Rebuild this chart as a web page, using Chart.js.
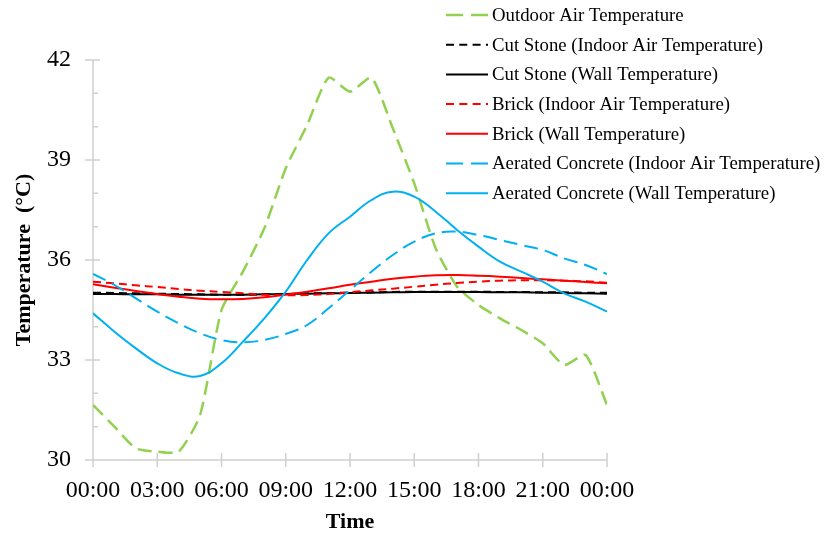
<!DOCTYPE html>
<html><head><meta charset="utf-8">
<script src="https://cdn.jsdelivr.net/npm/chart.js@4.4.1/dist/chart.umd.min.js"></script>
<style>html,body{margin:0;padding:0;background:#fff}#wrap{width:826px;height:536px}</style>
</head><body><div id="wrap"><canvas id="c" width="826" height="536"></canvas></div>
<script>
// ---- data ----
const hours = [0,1,2,3,4,5,6,7,8,9,10,11,12,13,14,15,16,17,18,19,20,21,22,23,24];
const yTicks = [30, 33, 36, 39, 42];
const seriesLabels = [
  'Outdoor Air Temperature',
  'Cut Stone (Indoor Air Temperature)',
  'Cut Stone (Wall Temperature)',
  'Brick (Indoor Air Temperature)',
  'Brick (Wall Temperature)',
  'Aerated Concrete (Indoor Air Temperature)',
  'Aerated Concrete (Wall Temperature)'
];
const outdoorAir = [31.65,31.0,30.35,30.25,30.25,31.35,34.5,35.65,36.95,38.75,40.05,41.47,41.05,41.47,39.95,38.3,36.35,35.2,34.65,34.25,33.9,33.5,32.85,33.15,31.65];
const cutStoneAir = [35.02,35.01,35.0,34.99,34.98,34.97,34.96,34.96,34.97,34.98,35.0,35.01,35.02,35.03,35.04,35.05,35.05,35.05,35.05,35.04,35.04,35.03,35.03,35.02,35.02];
const cutStoneWall = [34.98,34.98,34.97,34.97,34.96,34.96,34.96,34.96,34.97,34.98,34.99,35.0,35.01,35.02,35.03,35.04,35.04,35.04,35.04,35.03,35.03,35.02,35.01,35.0,34.99];
const brickAir = [35.35,35.3,35.24,35.19,35.13,35.08,35.04,35.0,34.96,34.94,34.95,34.98,35.03,35.09,35.14,35.2,35.26,35.31,35.35,35.38,35.39,35.39,35.38,35.36,35.32];
const brickWall = [35.27,35.17,35.07,34.98,34.9,34.84,34.82,34.83,34.88,34.96,35.05,35.15,35.26,35.35,35.44,35.5,35.54,35.55,35.53,35.5,35.46,35.42,35.38,35.34,35.3];
const aeratedAir = [35.58,35.25,34.85,34.45,34.1,33.8,33.6,33.53,33.6,33.78,34.05,34.55,35.1,35.65,36.15,36.55,36.8,36.85,36.75,36.6,36.45,36.3,36.05,35.85,35.58];
const aeratedWall = [34.4,33.85,33.35,32.9,32.6,32.52,32.9,33.55,34.25,35.05,36.0,36.8,37.3,37.8,38.05,37.9,37.45,36.9,36.4,35.95,35.65,35.35,35.0,34.75,34.45];

const seriesValues = [outdoorAir, cutStoneAir, cutStoneWall, brickAir, brickWall, aeratedAir, aeratedWall];
const seriesColors = ['#92d050','#000000','#000000','#ff0000','#ff0000','#00b0f0','#00b0f0'];
const seriesDash = [[14,7],[8,5],[],[8,5],[],[14,7],[]];
const seriesWidth = [2.5,2,2,2,2,2,2];
const seriesTension = [0.2,0.4,0.4,0.4,0.4,0.4,0.4];

const fmtHour = v => String(v % 24).padStart(2,'0') + ':00';

const datasets = seriesLabels.map((lab, i) => ({
  label: lab,
  data: hours.map((h, k) => ({x: h, y: seriesValues[i][k]})),
  borderColor: seriesColors[i],
  backgroundColor: seriesColors[i],
  borderDash: seriesDash[i],
  borderWidth: seriesWidth[i],
  tension: seriesTension[i],
  pointRadius: 0,
  fill: false,
  order: 10 - i
}));

const SERIF = '"Liberation Serif", "Times New Roman", serif';

const axesPlugin = {
  id: 'axesPlugin',
  beforeDatasetsDraw(chart) {
    const {ctx, scales: {x, y}, chartArea: a} = chart;
    ctx.save();
    ctx.strokeStyle = '#d0d0d0';
    ctx.lineWidth = 1.5;
    ctx.beginPath();
    ctx.moveTo(a.left, a.top); ctx.lineTo(a.left, a.bottom);
    ctx.moveTo(a.left, a.bottom); ctx.lineTo(a.right, a.bottom);
    y.ticks.forEach(t => { const p = y.getPixelForValue(t.value); ctx.moveTo(a.left - 8, p); ctx.lineTo(a.left + 7, p); });
    for (let v = y.min; v <= y.max; v += 1) { const p = y.getPixelForValue(v); ctx.moveTo(a.left, p); ctx.lineTo(a.left + 5, p); }
    x.ticks.forEach(t => { const p = x.getPixelForValue(t.value); ctx.moveTo(p, a.bottom - 7); ctx.lineTo(p, a.bottom + 7); });
    ctx.stroke();
    ctx.restore();
  }
};

const legendPlugin = {
  id: 'customLegend',
  afterDraw(chart) {
    const ctx = chart.ctx;
    ctx.save();
    ctx.font = '18.8px ' + SERIF;
    ctx.textBaseline = 'middle';
    ctx.textAlign = 'left';
    chart.data.datasets.forEach((ds, i) => {
      const yy = 15 + i * 29.7;
      ctx.strokeStyle = ds.borderColor;
      ctx.lineWidth = ds.borderWidth;
      const d = ds.borderDash.length ? (ds.borderDash[0] > 10 ? [17, 8] : [8, 5.3]) : [];
      ctx.setLineDash(d);
      ctx.beginPath();
      ctx.moveTo(446, yy); ctx.lineTo(488, yy);
      ctx.stroke();
      ctx.setLineDash([]);
      ctx.fillStyle = '#000';
      ctx.fillText(ds.label, 492, yy + 1);
    });
    ctx.restore();
  }
};

new Chart(document.getElementById('c'), {
  type: 'line',
  data: { datasets },
  options: {
    responsive: false,
    animation: false,
    devicePixelRatio: 1,
    layout: { padding: { top: 60, right: 219, left: 0, bottom: 0 } },
    plugins: { legend: { display: false }, tooltip: { enabled: false } },
    scales: {
      x: {
        type: 'linear', min: 0, max: 24,
        afterBuildTicks: s => { s.ticks = hours.filter(h => h % 3 === 0).map(v => ({value: v})); },
        afterFit: s => { s.height = 76; },
        grid: { display: false, drawTicks: false },
        border: { display: false },
        ticks: { color: '#000', font: { family: SERIF, size: 24 }, padding: 16, maxRotation: 0, autoSkip: false, callback: v => fmtHour(v) },
        title: { display: true, text: 'Time', color: '#000', font: { family: SERIF, size: 22, weight: 'bold' }, padding: { top: 0, bottom: 0 } }
      },
      y: {
        min: 30, max: 42,
        afterBuildTicks: s => { s.ticks = yTicks.map(v => ({value: v})); },
        afterFit: s => { s.width = 93; },
        grid: { display: false, drawTicks: false },
        border: { display: false },
        ticks: { color: '#000', font: { family: SERIF, size: 24 }, padding: 22 },
        title: { display: true, text: 'Temperature  (°C)', color: '#000', font: { family: SERIF, size: 22, weight: 'bold' }, padding: { top: 11, bottom: 0 } }
      }
    }
  },
  plugins: [axesPlugin, legendPlugin]
});
</script>
</body></html>
